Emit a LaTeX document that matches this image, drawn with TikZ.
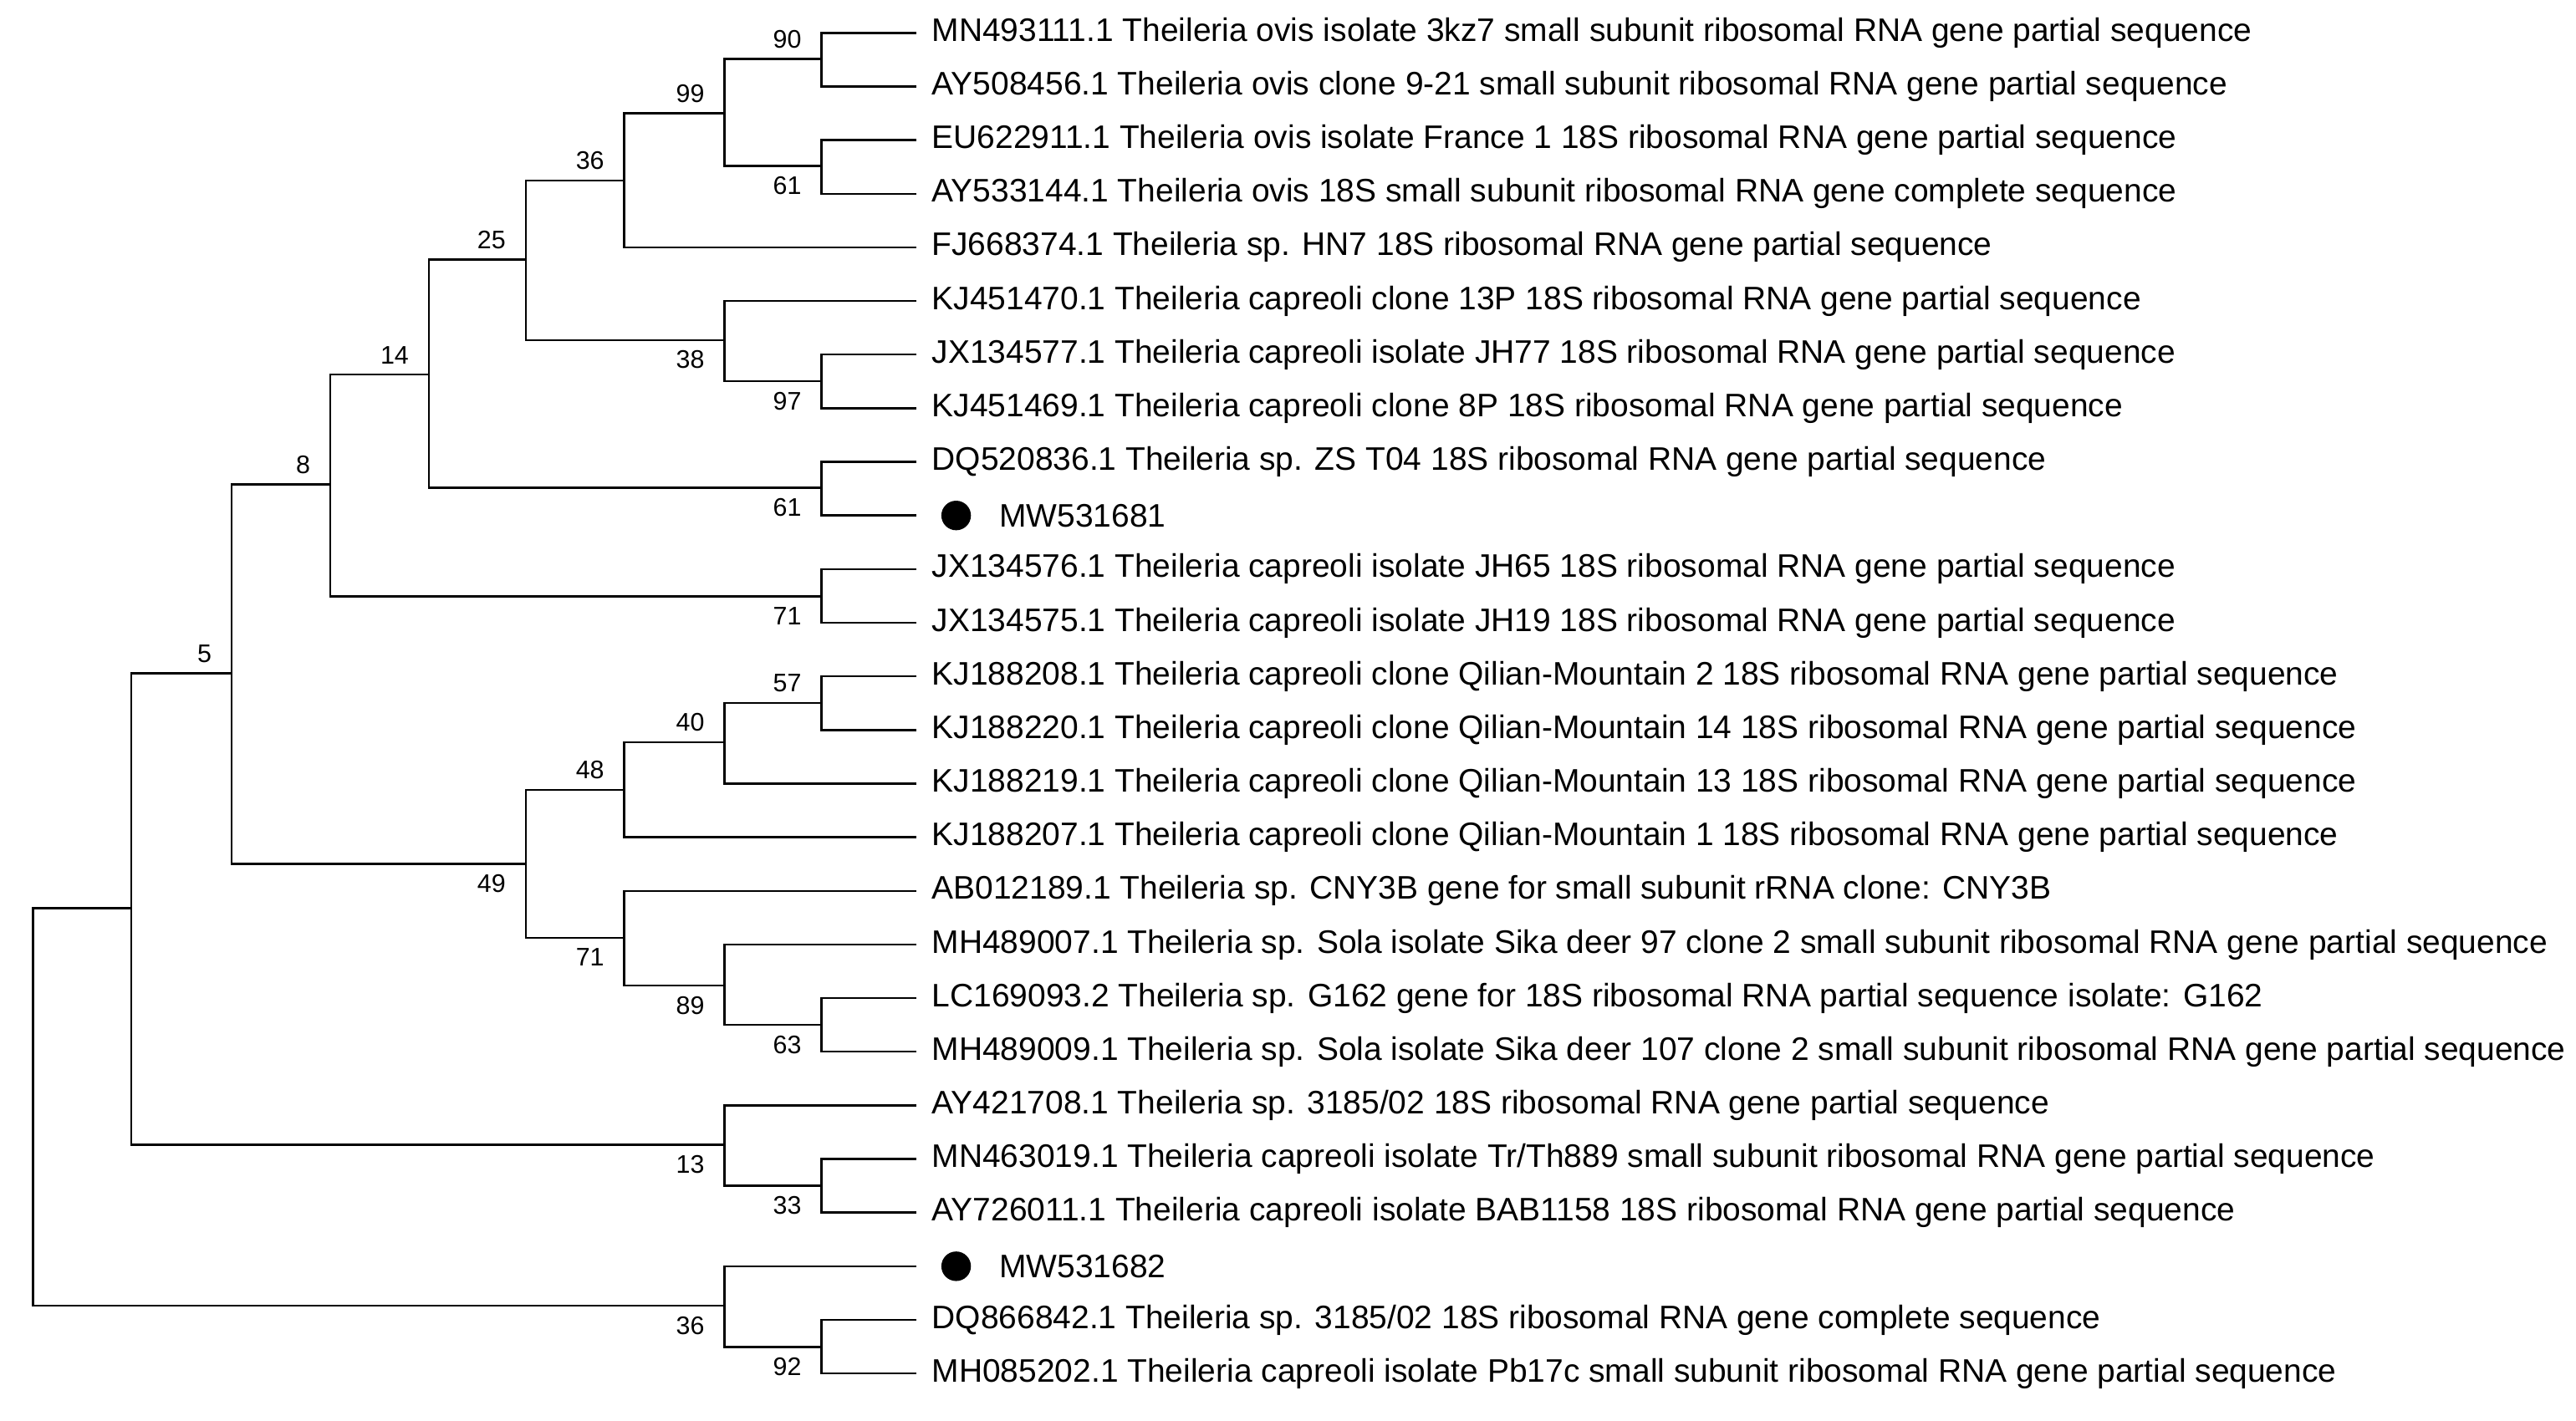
\documentclass[tikz,border=0pt]{standalone}
\usepackage{fontspec}
\setmainfont{Liberation Sans}
\begin{document}
\begin{tikzpicture}[x=0.25mm,y=-0.25mm,
  br/.style={line width=0.9pt},
  lf/.style={anchor=west,inner sep=0pt,font=\fontsize{14.1}{16}\selectfont},
  bsa/.style={anchor=south east,inner sep=1.5pt,font=\fontsize{11}{12}\selectfont},
  bsb/.style={anchor=north east,inner sep=1.5pt,font=\fontsize{11}{12}\selectfont}]
\useasboundingbox (0,0) rectangle (1568,865);
\def\ly#1{20+32.65*#1}
% leaves
\foreach \i/\t in {0/{MN493111.1 Theileria ovis isolate 3kz7 small subunit ribosomal RNA gene partial sequence},
1/{AY508456.1 Theileria ovis clone 9-21 small subunit ribosomal RNA gene partial sequence},
2/{EU622911.1 Theileria ovis isolate France 1 18S ribosomal RNA gene partial sequence},
3/{AY533144.1 Theileria ovis 18S small subunit ribosomal RNA gene complete sequence},
4/{FJ668374.1 Theileria sp. HN7 18S ribosomal RNA gene partial sequence},
5/{KJ451470.1 Theileria capreoli clone 13P 18S ribosomal RNA gene partial sequence},
6/{JX134577.1 Theileria capreoli isolate JH77 18S ribosomal RNA gene partial sequence},
7/{KJ451469.1 Theileria capreoli clone 8P 18S ribosomal RNA gene partial sequence},
8/{DQ520836.1 Theileria sp. ZS T04 18S ribosomal RNA gene partial sequence},
10/{JX134576.1 Theileria capreoli isolate JH65 18S ribosomal RNA gene partial sequence},
11/{JX134575.1 Theileria capreoli isolate JH19 18S ribosomal RNA gene partial sequence},
12/{KJ188208.1 Theileria capreoli clone Qilian-Mountain 2 18S ribosomal RNA gene partial sequence},
13/{KJ188220.1 Theileria capreoli clone Qilian-Mountain 14 18S ribosomal RNA gene partial sequence},
14/{KJ188219.1 Theileria capreoli clone Qilian-Mountain 13 18S ribosomal RNA gene partial sequence},
15/{KJ188207.1 Theileria capreoli clone Qilian-Mountain 1 18S ribosomal RNA gene partial sequence},
16/{AB012189.1 Theileria sp. CNY3B gene for small subunit rRNA clone: CNY3B},
17/{MH489007.1 Theileria sp. Sola isolate Sika deer 97 clone 2 small subunit ribosomal RNA gene partial sequence},
18/{LC169093.2 Theileria sp. G162 gene for 18S ribosomal RNA partial sequence isolate: G162},
19/{MH489009.1 Theileria sp. Sola isolate Sika deer 107 clone 2 small subunit ribosomal RNA gene partial sequence},
20/{AY421708.1 Theileria sp. 3185/02 18S ribosomal RNA gene partial sequence},
21/{MN463019.1 Theileria capreoli isolate Tr/Th889 small subunit ribosomal RNA gene partial sequence},
22/{AY726011.1 Theileria capreoli isolate BAB1158 18S ribosomal RNA gene partial sequence},
24/{DQ866842.1 Theileria sp. 3185/02 18S ribosomal RNA gene complete sequence},
25/{MH085202.1 Theileria capreoli isolate Pb17c small subunit ribosomal RNA gene partial sequence}}
{ \coordinate (l\i) at (558,{\ly{\i}}); \node[lf] (t\i) at (567,{\ly{\i}}) {\t}; }
\foreach \i in {9,23}{
  \coordinate (l\i) at (558,{\ly{\i}});
  \fill (582,{\ly{\i}}) circle (9);
  \node[lf] (t\i) at (608,{\ly{\i}}) {MW5316\ifnum\i=9 81\else 82\fi};
}
% internal nodes
\coordinate (A) at (500,36);  \coordinate (B) at (500,101);
\coordinate (C) at (441,69);  \coordinate (D) at (380,110);
\coordinate (E) at (500,232); \coordinate (F) at (441,207);
\coordinate (G) at (320,158); \coordinate (H) at (500,297);
\coordinate (I) at (261,228); \coordinate (J) at (500,363);
\coordinate (K) at (201,295); \coordinate (L) at (500,428);
\coordinate (M) at (441,452); \coordinate (N) at (380,481);
\coordinate (O) at (500,624); \coordinate (P) at (441,600);
\coordinate (Q) at (380,571); \coordinate (R) at (320,526);
\coordinate (S) at (141,410); \coordinate (T) at (500,722);
\coordinate (U) at (441,697); \coordinate (V) at (80,553);
\coordinate (W) at (500,820); \coordinate (X) at (441,795);
\coordinate (Z) at (20,674);
\draw[br] (A) |- (l0) (A) |- (l1) (B) |- (l2) (B) |- (l3)
  (C) |- (A) (C) |- (B) (D) |- (C) (D) |- (l4)
  (E) |- (l6) (E) |- (l7) (F) |- (l5) (F) |- (E)
  (G) |- (D) (G) |- (F) (H) |- (l8) (H) |- (l9)
  (I) |- (G) (I) |- (H) (J) |- (l10) (J) |- (l11)
  (K) |- (I) (K) |- (J)
  (L) |- (l12) (L) |- (l13) (M) |- (L) (M) |- (l14)
  (N) |- (M) (N) |- (l15)
  (O) |- (l18) (O) |- (l19) (P) |- (l17) (P) |- (O)
  (Q) |- (l16) (Q) |- (P) (R) |- (N) (R) |- (Q)
  (S) |- (K) (S) |- (R)
  (T) |- (l21) (T) |- (l22) (U) |- (l20) (U) |- (T)
  (V) |- (S) (V) |- (U)
  (W) |- (l24) (W) |- (l25) (X) |- (l23) (X) |- (W)
  (Z) |- (V) (Z) |- (X);
% bootstrap labels
\foreach \n/\v in {A/90,C/99,D/36,G/25,I/14,K/8,L/57,M/40,N/48,S/5}
  \node[bsa] at ([xshift=-7,yshift=3]\n) {\v};
\foreach \n/\v in {B/61,E/97,F/38,H/61,J/71,O/63,P/89,Q/71,R/49,T/33,U/13,W/92,X/36}
  \node[bsb] at ([xshift=-7,yshift=-3]\n) {\v};
\end{tikzpicture}
\end{document}
